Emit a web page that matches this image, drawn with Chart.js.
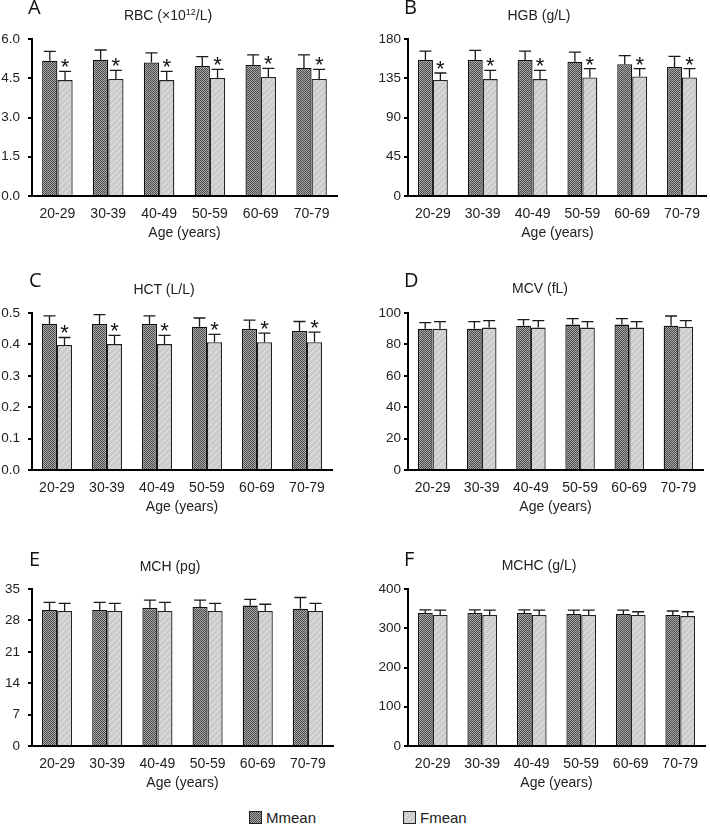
<!DOCTYPE html>
<html>
<head>
<meta charset="utf-8">
<script src="https://cdn.jsdelivr.net/npm/chart.js@4.4.1/dist/chart.umd.min.js"></script>
<style>
  body { margin: 0; background: #fff; width: 710px; height: 826px; position: relative; overflow: hidden;
         font-family: "Liberation Sans", Arial, sans-serif; color: #222; }
  .panel { position: absolute; width: 355px; height: 250px; }
  .ttl { position: absolute; font-size: 14px; line-height: 1; white-space: nowrap; transform: translate(-50%, -50%); }
  .ttl sup { font-size: 9px; vertical-align: 5px; line-height: 0; }
  .letter { position: absolute; font-family: "Open Sans", sans-serif; font-size: 20px; line-height: 1; color: #111; }
  .legend { position: absolute; top: 810px; font-size: 15px; line-height: 1; display: flex; align-items: center; }
  .legend canvas { border: 1px solid #222; margin-right: 4px; }
</style>
</head>
<body>
<div id="wrap"></div>
<div class="legend" style="left:249px"><canvas id="swM" width="11" height="11"></canvas>Mmean</div>
<div class="legend" style="left:403px"><canvas id="swF" width="11" height="11"></canvas>Fmean</div>
<script>
// --- data ---
const ageGroups = ["20-29", "30-39", "40-49", "50-59", "60-69", "70-79"];

const rbcM = [5.17, 5.21, 5.10, 4.97, 5.01, 4.89];
const rbcMsd = [0.36, 0.37, 0.37, 0.36, 0.38, 0.50];
const rbcF = [4.43, 4.47, 4.43, 4.51, 4.55, 4.47];
const rbcFsd = [0.33, 0.33, 0.33, 0.33, 0.33, 0.37];

const hgbM = [156, 156, 156, 154, 151, 148];
const hgbMsd = [10, 11, 10, 11, 10, 12];
const hgbF = [133, 134, 134, 136, 137, 136];
const hgbFsd = [8, 10, 10, 10, 9, 10];

const hctM = [0.465, 0.465, 0.465, 0.456, 0.449, 0.443];
const hctMsd = [0.026, 0.030, 0.026, 0.028, 0.028, 0.030];
const hctF = [0.398, 0.401, 0.401, 0.407, 0.407, 0.407];
const hctFsd = [0.024, 0.028, 0.028, 0.025, 0.029, 0.032];

const mcvM = [90.0, 90.0, 91.9, 92.6, 92.6, 91.9];
const mcvMsd = [3.9, 4.5, 3.9, 3.8, 3.8, 6.2];
const mcvF = [90.0, 90.7, 90.7, 90.7, 90.7, 91.3];
const mcvFsd = [4.5, 4.4, 4.4, 3.8, 3.8, 3.8];

const mchM = [30.3, 30.3, 30.8, 31.0, 31.3, 30.6];
const mchMsd = [1.7, 1.7, 1.7, 1.5, 1.4, 2.5];
const mchF = [30.1, 30.1, 30.1, 30.1, 30.1, 30.1];
const mchFsd = [1.7, 1.7, 1.9, 1.7, 1.5, 1.7];

const mchcM = [339, 339, 339, 336, 336, 334];
const mchcMsd = [8, 8, 8, 10, 10, 10];
const mchcF = [334, 334, 334, 334, 334, 331];
const mchcFsd = [12, 12, 12, 12, 8, 11];

// --- fill patterns ---
function makePattern(kind) {
  const c = document.createElement("canvas");
  const g = c.getContext("2d");
  if (kind === "M") {
    c.width = 2; c.height = 2;
    g.fillStyle = "#a9a9a9"; g.fillRect(0, 0, 2, 2);
    g.fillStyle = "#4a4a4a"; g.fillRect(0, 0, 1, 1); g.fillRect(1, 1, 1, 1);
  } else {
    c.width = 6; c.height = 6;
    g.fillStyle = "#cbcbcb"; g.fillRect(0, 0, 6, 6);
    g.fillStyle = "#dadada";
    for (let i = 0; i < 6; i++) { g.fillRect(i, 5 - i, 1, 1); g.fillRect((i + 1) % 6, 5 - i, 1, 1); }
  }
  return g.createPattern(c, "repeat");
}
const patM = makePattern("M");
const patF = makePattern("F");

[["swM", patM], ["swF", patF]].forEach(([id, p]) => {
  const g = document.getElementById(id).getContext("2d");
  g.fillStyle = p; g.fillRect(0, 0, 11, 11);
});

// error bars + significance stars
const errorBars = {
  id: "errorBars",
  afterDatasetsDraw(chart) {
    const ctx = chart.ctx;
    const y = chart.scales.y;
    ctx.save();
    ctx.strokeStyle = "#1a1a1a";
    ctx.lineWidth = 1.3;
    chart.data.datasets.forEach((ds, di) => {
      const meta = chart.getDatasetMeta(di);
      meta.data.forEach((bar, i) => {
        const top = y.getPixelForValue(ds.data[i] + ds.sd[i]);
        ctx.beginPath();
        ctx.moveTo(bar.x, bar.y);
        ctx.lineTo(bar.x, top);
        ctx.moveTo(bar.x - 6, top);
        ctx.lineTo(bar.x + 6, top);
        ctx.stroke();
        if (ds.star) {
          ctx.fillStyle = "#111";
          ctx.font = '22px "Liberation Sans", Arial, sans-serif';
          ctx.textAlign = "center";
          ctx.textBaseline = "alphabetic";
          ctx.fillText("*", bar.x, top + 3);
        }
      });
    });
    ctx.restore();
  }
};

const panels = [
  { id: "A", title: "RBC (×10<sup>12</sup>/L)", m: rbcM, msd: rbcMsd, f: rbcF, fsd: rbcFsd, max: 6, step: 1.5, dec: 1, star: true,
    left: 0, top: 0, axisW: 32, padR: 18, tickPad: 8, tx: 168, ty: 15, lx: 28, ly: -3 },
  { id: "B", title: "HGB (g/L)", m: hgbM, msd: hgbMsd, f: hgbF, fsd: hgbFsd, max: 180, step: 45, dec: 0, star: true,
    left: 355, top: 0, axisW: 53, padR: 1, tickPad: 3, tx: 539, ty: 15, lx: 404, ly: -3 },
  { id: "C", title: "HCT (L/L)", m: hctM, msd: hctMsd, f: hctF, fsd: hctFsd, max: 0.5, step: 0.1, dec: 1, star: true,
    left: 0, top: 274, axisW: 32, padR: 23, tickPad: 8, tx: 164, ty: 289, lx: 29, ly: 270 },
  { id: "D", title: "MCV (fL)", m: mcvM, msd: mcvMsd, f: mcvF, fsd: mcvFsd, max: 100, step: 20, dec: 0, star: false,
    left: 355, top: 274, axisW: 53, padR: 7, tickPad: 3, tx: 540, ty: 288, lx: 404, ly: 270 },
  { id: "E", title: "MCH (pg)", m: mchM, msd: mchMsd, f: mchF, fsd: mchFsd, max: 35, step: 7, dec: 0, star: false,
    left: 0, top: 550, axisW: 32, padR: 22, tickPad: 8, tx: 170, ty: 566, lx: 29, ly: 549 },
  { id: "F", title: "MCHC (g/L)", m: mchcM, msd: mchcMsd, f: mchcF, fsd: mchcFsd, max: 400, step: 100, dec: 0, star: false,
    left: 355, top: 550, axisW: 53, padR: 5, tickPad: 3, tx: 539, ty: 565, lx: 404, ly: 549 },
];

const fontFam = '"Liberation Sans", Arial, sans-serif';
const wrap = document.getElementById("wrap");

panels.forEach((p) => {
  const box = document.createElement("div");
  box.className = "panel";
  box.style.left = p.left + "px";
  box.style.top = p.top + "px";
  const cv = document.createElement("canvas");
  cv.width = 355;
  cv.height = 250;
  cv.style.width = "355px";
  cv.style.height = "250px";
  box.appendChild(cv);
  wrap.appendChild(box);

  const t = document.createElement("div");
  t.className = "ttl";
  t.innerHTML = p.title;
  t.style.left = p.tx + "px";
  t.style.top = p.ty + "px";
  wrap.appendChild(t);

  const l = document.createElement("div");
  l.className = "letter";
  l.textContent = p.id;
  l.style.left = p.lx + "px";
  l.style.top = p.ly + "px";
  wrap.appendChild(l);

  new Chart(cv, {
    type: "bar",
    data: {
      labels: ageGroups,
      datasets: [
        { label: "Mmean", data: p.m, sd: p.msd, star: false, backgroundColor: patM, borderColor: "#111", borderWidth: 1.3 },
        { label: "Fmean", data: p.f, sd: p.fsd, star: p.star, backgroundColor: patF, borderColor: "#222", borderWidth: 1.3 },
      ],
    },
    options: {
      responsive: false,
      animation: false,
      maintainAspectRatio: false,
      devicePixelRatio: 1,
      categoryPercentage: 0.6,
      barPercentage: 1.0,
      layout: { padding: { top: 39, right: p.padR, bottom: 6, left: 0 } },
      plugins: { legend: { display: false }, tooltip: { enabled: false } },
      scales: {
        x: {
          offset: true,
          grid: { display: false, drawTicks: false },
          border: { color: "#000", width: 2 },
          ticks: { color: "#222", font: { size: 14, family: fontFam }, padding: 10, maxRotation: 0, autoSkip: false },
          title: { display: true, text: "Age (years)", color: "#222", font: { size: 14, family: fontFam }, padding: { top: 0, bottom: 2 } },
          afterFit: (s) => { s.height = 48; },
        },
        y: {
          min: 0,
          max: p.max,
          ticks: {
            stepSize: p.step,
            autoSkip: false,
            color: "#222",
            padding: p.tickPad,
            font: { size: 13.5, family: fontFam },
            callback: (v) => Number(v).toFixed(p.dec),
          },
          grid: { drawOnChartArea: false, drawTicks: true, tickLength: 4, color: "#000", lineWidth: 2 },
          border: { color: "#000", width: 2 },
          afterFit: (s) => { s.width = p.axisW; },
        },
      },
    },
    plugins: [errorBars],
  });
});
</script>
</body>
</html>
